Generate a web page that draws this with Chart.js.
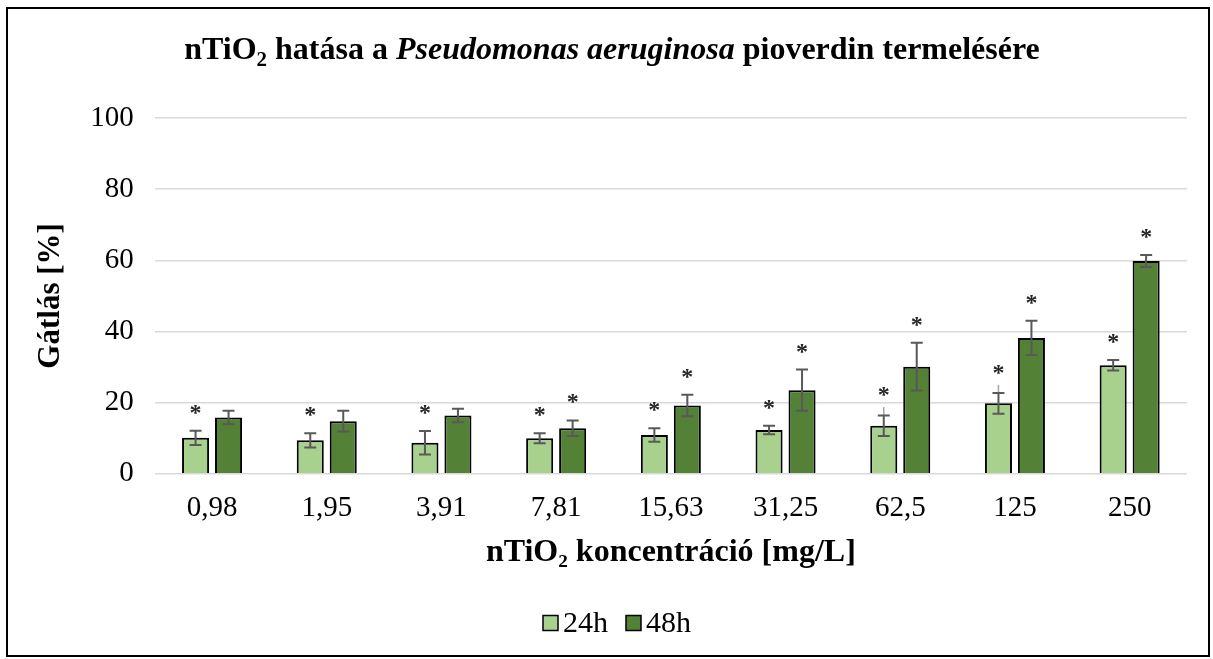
<!DOCTYPE html>
<html>
<head>
<meta charset="utf-8">
<script src="https://cdn.jsdelivr.net/npm/chart.js@4/dist/chart.umd.min.js"></script>
<style>
  body { margin: 0; background: #fff; }
  #wrap { width: 1213px; height: 659px; position: relative; }
</style>
</head>
<body>
<div id="wrap"><canvas id="myChart"></canvas></div>
<script>
const labels = ["0,98", "1,95", "3,91", "7,81", "15,63", "31,25", "62,5", "125", "250"];

const h24 = [10.1, 9.4, 8.7, 10.0, 10.9, 12.3, 13.5, 19.8, 30.5];
const h24Err = [2.0, 2.0, 3.3, 1.4, 1.9, 1.2, 2.9, 2.9, 1.5];
const h24Sig = [1, 1, 1, 1, 1, 1, 1, 1, 1];
// faint extra whisker tops seen on two of the 24h bars
const h24Faint = [null, null, null, null, null, null, 18.8, 25.0, null];

const h48 = [15.8, 14.8, 16.4, 12.8, 19.2, 23.5, 30.1, 38.2, 59.8];
const h48Err = [1.9, 2.9, 1.9, 2.2, 3.0, 5.8, 6.7, 4.8, 1.7];
const h48Sig = [0, 0, 0, 1, 1, 1, 1, 1, 1];
const h48Faint = [null, null, null, null, null, null, null, null, null];

const yTicks = [0, 20, 40, 60, 80, 100];

const serif = "'Liberation Serif', 'Times New Roman', serif";

const ctx = document.getElementById("myChart").getContext("2d");

const data = {
  labels,
  datasets: [
    {
      label: "24h",
      data: h24,
      err: h24Err,
      sig: h24Sig,
      faint: h24Faint,
      backgroundColor: "#a9d18e",
      borderColor: "#000000",
      borderWidth: 2,
    },
    {
      label: "48h",
      data: h48,
      err: h48Err,
      sig: h48Sig,
      faint: h48Faint,
      backgroundColor: "#538135",
      borderColor: "#000000",
      borderWidth: 2,
    },
  ],
};

// error bars and significance stars
const errorBars = {
  id: "errorBars",
  afterDatasetsDraw(chart) {
    const c = chart.ctx;
    const y = chart.scales.y;
    chart.data.datasets.forEach((ds, i) => {
      const meta = chart.getDatasetMeta(i);
      meta.data.forEach((bar, j) => {
        const v = ds.data[j];
        const top = y.getPixelForValue(v + ds.err[j]);
        const bot = y.getPixelForValue(v - ds.err[j]);
        c.save();
        if (ds.faint[j] != null) {
          c.strokeStyle = "#a6a6a6";
          c.lineWidth = 1.5;
          c.beginPath();
          c.moveTo(bar.x, top);
          c.lineTo(bar.x, y.getPixelForValue(ds.faint[j]));
          c.stroke();
        }
        c.strokeStyle = "#595959";
        c.lineWidth = 2;
        c.beginPath();
        c.moveTo(bar.x, top);
        c.lineTo(bar.x, bot);
        c.moveTo(bar.x - 6, top);
        c.lineTo(bar.x + 6, top);
        c.moveTo(bar.x - 6, bot);
        c.lineTo(bar.x + 6, bot);
        c.stroke();
        if (ds.sig[j]) {
          const starY = ds.faint[j] != null ? Math.min(top, y.getPixelForValue(ds.faint[j])) + 6 : top;
          c.fillStyle = "#262626";
          c.font = "bold 24px " + serif;
          c.textAlign = "center";
          c.textBaseline = "alphabetic";
          c.fillText("*", bar.x, starY - 11);
        }
        c.restore();
      });
    });
  },
};

// title with italic species name, legend and frame
const decorations = {
  id: "decorations",
  afterDraw(chart) {
    const c = chart.ctx;
    c.save();
    const size = 32;
    const parts = [
      { t: "nTiO", f: "bold " + size + "px " + serif, dy: 0 },
      { t: "2", f: "bold " + Math.round(size * 0.65) + "px " + serif, dy: 7 },
      { t: " hatása a ", f: "bold " + size + "px " + serif, dy: 0 },
      { t: "Pseudomonas aeruginosa", f: "italic bold " + size + "px " + serif, dy: 0 },
      { t: " pioverdin termelésére", f: "bold " + size + "px " + serif, dy: 0 },
    ];
    let w = 0;
    parts.forEach((p) => { c.font = p.f; w += c.measureText(p.t).width; });
    let x = 612 - w / 2;
    c.fillStyle = "#000";
    c.textBaseline = "alphabetic";
    c.textAlign = "left";
    parts.forEach((p) => {
      c.font = p.f;
      c.fillText(p.t, x, 59 + p.dy);
      x += c.measureText(p.t).width;
    });

    // legend
    c.font = "30px " + serif;
    const items = chart.data.datasets.map((d) => ({ label: d.label, color: d.backgroundColor }));
    const box = 15, gapText = 5, gapItem = 18;
    let lw = 0;
    items.forEach((it, k) => { lw += box + gapText + c.measureText(it.label).width + (k ? gapItem : 0); });
    let lx = 617 - lw / 2;
    const ly = 623;
    items.forEach((it) => {
      c.fillStyle = it.color;
      c.fillRect(lx, ly - box / 2, box, box);
      c.strokeStyle = "#000";
      c.lineWidth = 1.5;
      c.strokeRect(lx, ly - box / 2, box, box);
      c.fillStyle = "#000";
      c.textBaseline = "middle";
      c.fillText(it.label, lx + box + gapText, ly + 1);
      lx += box + gapText + c.measureText(it.label).width + gapItem;
    });

    // outer frame
    c.strokeStyle = "#000";
    c.lineWidth = 2;
    c.strokeRect(7, 8, 1202, 648);
    c.restore();
  },
};

const config = {
  type: "bar",
  data: data,
  options: {
    responsive: true,
    maintainAspectRatio: false,
    animation: false,
    categoryPercentage: 0.575,
    barPercentage: 0.82,
    layout: {
      padding: { top: 118, left: 32, right: 26, bottom: 87 },
    },
    plugins: {
      legend: { display: false },
      tooltip: { enabled: false },
    },
    scales: {
      x: {
        grid: { display: false, drawTicks: false },
        border: { display: false },
        ticks: {
          color: "#000",
          padding: 17,
          font: { family: serif, size: 29 },
        },
        title: {
          display: true,
          text: "nTiO₂ koncentráció [mg/L]",
          color: "#000",
          padding: { top: -9, bottom: 0 },
          font: { family: serif, size: 32, weight: "bold" },
        },
      },
      y: {
        min: 0,
        max: 100,
        afterBuildTicks(scale) {
          scale.ticks = yTicks.map((v) => ({ value: v }));
        },
        grid: { color: "#d9d9d9", lineWidth: 1.5, drawTicks: false },
        border: { display: false },
        ticks: {
          color: "#000",
          padding: 21,
          font: { family: serif, size: 29 },
        },
        title: {
          display: true,
          text: "Gátlás [%]",
          color: "#000",
          padding: 0,
          font: { family: serif, size: 31, weight: "bold" },
        },
      },
    },
  },
  plugins: [errorBars, decorations],
};

const myChart = new Chart(ctx, config);
</script>
</body>
</html>
